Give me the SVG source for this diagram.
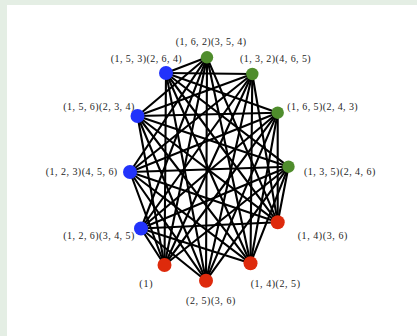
<svg xmlns="http://www.w3.org/2000/svg" width="417" height="336" viewBox="0 0 417 336">
  <style>
    .edge { stroke: #000; stroke-width: 2.1; stroke-linecap: round; fill: none; }
    .blue { fill: #2233fb; }
    .green { fill: #4f8d2c; }
    .red { fill: #de2a0c; }
    .lbl { font-family: "Liberation Serif", "DejaVu Serif", serif; font-size: 10px; fill: #1e1e1e; }
  </style>
  <!-- page background with white panel -->
  <rect x="0" y="0" width="417" height="336" fill="#e4eee4"/>
  <rect x="7" y="5" width="410" height="331" fill="#ffffff"/>

  <!-- connectors: complete tripartite graph between the three colour classes -->
  <g id="edges" class="edge">
    <!-- blue to green -->
    <line x1="166" y1="73" x2="207" y2="57.3"/>
    <line x1="166" y1="73" x2="252.3" y2="74"/>
    <line x1="166" y1="73" x2="277.7" y2="112.7"/>
    <line x1="166" y1="73" x2="288.5" y2="166.7"/>
    <line x1="137.5" y1="116" x2="207" y2="57.3"/>
    <line x1="137.5" y1="116" x2="252.3" y2="74"/>
    <line x1="137.5" y1="116" x2="277.7" y2="112.7"/>
    <line x1="137.5" y1="116" x2="288.5" y2="166.7"/>
    <line x1="130" y1="172" x2="207" y2="57.3"/>
    <line x1="130" y1="172" x2="252.3" y2="74"/>
    <line x1="130" y1="172" x2="277.7" y2="112.7"/>
    <line x1="130" y1="172" x2="288.5" y2="166.7"/>
    <line x1="141" y1="228.5" x2="207" y2="57.3"/>
    <line x1="141" y1="228.5" x2="252.3" y2="74"/>
    <line x1="141" y1="228.5" x2="277.7" y2="112.7"/>
    <line x1="141" y1="228.5" x2="288.5" y2="166.7"/>
    <!-- blue to red -->
    <line x1="166" y1="73" x2="277.7" y2="222.3"/>
    <line x1="166" y1="73" x2="250.5" y2="263.3"/>
    <line x1="166" y1="73" x2="206" y2="280.7"/>
    <line x1="166" y1="73" x2="164.5" y2="265"/>
    <line x1="137.5" y1="116" x2="277.7" y2="222.3"/>
    <line x1="137.5" y1="116" x2="250.5" y2="263.3"/>
    <line x1="137.5" y1="116" x2="206" y2="280.7"/>
    <line x1="137.5" y1="116" x2="164.5" y2="265"/>
    <line x1="130" y1="172" x2="277.7" y2="222.3"/>
    <line x1="130" y1="172" x2="250.5" y2="263.3"/>
    <line x1="130" y1="172" x2="206" y2="280.7"/>
    <line x1="130" y1="172" x2="164.5" y2="265"/>
    <line x1="141" y1="228.5" x2="277.7" y2="222.3"/>
    <line x1="141" y1="228.5" x2="250.5" y2="263.3"/>
    <line x1="141" y1="228.5" x2="206" y2="280.7"/>
    <line x1="141" y1="228.5" x2="164.5" y2="265"/>
    <!-- green to red -->
    <line x1="207" y1="57.3" x2="277.7" y2="222.3"/>
    <line x1="207" y1="57.3" x2="250.5" y2="263.3"/>
    <line x1="207" y1="57.3" x2="206" y2="280.7"/>
    <line x1="207" y1="57.3" x2="164.5" y2="265"/>
    <line x1="252.3" y1="74" x2="277.7" y2="222.3"/>
    <line x1="252.3" y1="74" x2="250.5" y2="263.3"/>
    <line x1="252.3" y1="74" x2="206" y2="280.7"/>
    <line x1="252.3" y1="74" x2="164.5" y2="265"/>
    <line x1="277.7" y1="112.7" x2="277.7" y2="222.3"/>
    <line x1="277.7" y1="112.7" x2="250.5" y2="263.3"/>
    <line x1="277.7" y1="112.7" x2="206" y2="280.7"/>
    <line x1="277.7" y1="112.7" x2="164.5" y2="265"/>
    <line x1="288.5" y1="166.7" x2="277.7" y2="222.3"/>
    <line x1="288.5" y1="166.7" x2="250.5" y2="263.3"/>
    <line x1="288.5" y1="166.7" x2="206" y2="280.7"/>
    <line x1="288.5" y1="166.7" x2="164.5" y2="265"/>
  </g>

  <!-- blue nodes -->
  <g id="n153">
    <circle class="blue" cx="166" cy="73" r="7"/>
    <text class="lbl" x="110.7" y="61.5" textLength="71" lengthAdjust="spacing">(1, 5, 3)(2, 6, 4)</text>
  </g>
  <g id="n156">
    <circle class="blue" cx="137.5" cy="116" r="7"/>
    <text class="lbl" x="63.3" y="109.5" textLength="71" lengthAdjust="spacing">(1, 5, 6)(2, 3, 4)</text>
  </g>
  <g id="n123">
    <circle class="blue" cx="130" cy="172" r="7"/>
    <text class="lbl" x="45.7" y="174.5" textLength="71.5" lengthAdjust="spacing">(1, 2, 3)(4, 5, 6)</text>
  </g>
  <g id="n126">
    <circle class="blue" cx="141" cy="228.5" r="7"/>
    <text class="lbl" x="63.3" y="239" textLength="71" lengthAdjust="spacing">(1, 2, 6)(3, 4, 5)</text>
  </g>

  <!-- green nodes -->
  <g id="n162">
    <circle class="green" cx="207" cy="57.3" r="6.2"/>
    <text class="lbl" x="175.7" y="44.5" textLength="70.3" lengthAdjust="spacing">(1, 6, 2)(3, 5, 4)</text>
  </g>
  <g id="n132">
    <circle class="green" cx="252.3" cy="74" r="6.2"/>
    <text class="lbl" x="240" y="61.5" textLength="70.7" lengthAdjust="spacing">(1, 3, 2)(4, 6, 5)</text>
  </g>
  <g id="n165">
    <circle class="green" cx="277.7" cy="112.7" r="6.2"/>
    <text class="lbl" x="287.3" y="109.5" textLength="70.4" lengthAdjust="spacing">(1, 6, 5)(2, 4, 3)</text>
  </g>
  <g id="n135">
    <circle class="green" cx="288.5" cy="166.7" r="6.2"/>
    <text class="lbl" x="304" y="174.5" textLength="71.3" lengthAdjust="spacing">(1, 3, 5)(2, 4, 6)</text>
  </g>

  <!-- red nodes -->
  <g id="n14_36">
    <circle class="red" cx="277.7" cy="222.3" r="7"/>
    <text class="lbl" x="297.7" y="239" textLength="49.6" lengthAdjust="spacing">(1, 4)(3, 6)</text>
  </g>
  <g id="n14_25">
    <circle class="red" cx="250.5" cy="263.3" r="7"/>
    <text class="lbl" x="250.7" y="286.5" textLength="49.3" lengthAdjust="spacing">(1, 4)(2, 5)</text>
  </g>
  <g id="n25_36">
    <circle class="red" cx="206" cy="280.7" r="7"/>
    <text class="lbl" x="186" y="303.5" textLength="49.3" lengthAdjust="spacing">(2, 5)(3, 6)</text>
  </g>
  <g id="nid">
    <circle class="red" cx="164.5" cy="265" r="7"/>
    <text class="lbl" x="139.3" y="286.5" textLength="13.4" lengthAdjust="spacing">(1)</text>
  </g>
</svg>
